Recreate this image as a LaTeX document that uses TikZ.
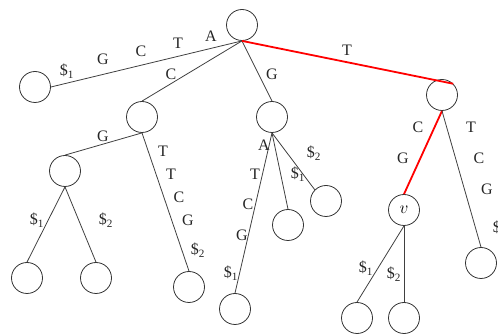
\documentclass[tikz,border=0pt]{standalone}
\usepackage{fontspec}
\setmainfont{Liberation Serif}
\newcommand{\dol}[1]{\$\textsubscript{#1}}
\begin{document}
\begin{tikzpicture}[x=1pt,y=-1pt,
  vtx/.style={circle,draw=black!80,line width=0.8pt,minimum size=31pt,inner sep=0pt},
  edge/.style={draw=black!75,line width=0.8pt},
  hot/.style={draw=red,line width=1.8pt},
  lab/.style={inner sep=0pt,font=\fontsize{16}{16}\selectfont,text=black!85}]
\clip (0,0) rectangle (498,336);
\useasboundingbox (0,0) rectangle (498,336);

% vertices
\node[vtx] (root) at (242,25) {};
\node[vtx] (l1)   at (35,87) {};
\node[vtx] (c)    at (142,117) {};
\node[vtx] (g)    at (272,117) {};
\node[vtx] (t)    at (442,95) {};
\node[vtx] (cg)   at (65,171) {};
\node[vtx] (cg1)  at (27,278) {};
\node[vtx] (cg2)  at (96,278) {};
\node[vtx] (ct)   at (189,287) {};
\node[vtx] (ga)   at (235,309) {};
\node[vtx] (g1)   at (288,225) {};
\node[vtx] (g2)   at (326,201) {};
\node[vtx,font=\fontsize{17}{17}\selectfont] (v) at (404,210) {$v$};
\node[vtx] (v1)   at (357,318) {};
\node[vtx] (v2)   at (404,318) {};
\node[vtx] (tt)   at (481,263) {};

% edges
\draw[edge] (root.south) -- (l1.east);
\draw[edge] (root.south) -- (c.north);
\draw[edge] (root.south) -- (g.north);
\draw[hot]  (root.south) -- (t.north east);
\draw[edge] (c.south) -- (cg.north);
\draw[edge] (c.south) -- (ct.north);
\draw[edge] (cg.south) -- (cg1.north);
\draw[edge] (cg.south) -- (cg2.north);
\draw[edge] (g.south) -- (ga.north);
\draw[edge] (g.south) -- (g1.north);
\draw[edge] (g.south) -- (g2.north west);
\draw[hot]  (t.south) -- (v.north);
\draw[edge] (t.south) -- (tt.north);
\draw[edge] (v.south) -- (v1.north);
\draw[edge] (v.south) -- (v2.north);

% edge labels
\node[lab] (a1) at (211,36) {A};
\node[lab] (a2) at (178,43) {T};
\node[lab] (a3) at (141,51) {C};
\node[lab] (a4) at (103,59) {G};
\node[lab] (a5) at (67,71) {\dol{1}};
\node[lab] (b1) at (171,74) {C};
\node[lab] (b2) at (272,74) {G};
\node[lab] (b3) at (347,50) {T};
\node[lab] (c1) at (103,136) {G};
\node[lab] (c2) at (163,151) {T};
\node[lab] (c3) at (171,174) {T};
\node[lab] (c4) at (179,197) {C};
\node[lab] (c5) at (188,220) {G};
\node[lab] (c6) at (198,250) {\dol{2}};
\node[lab] (d1) at (37,220) {\dol{1}};
\node[lab] (d2) at (106,220) {\dol{2}};
\node[lab] (e1) at (264,145) {A};
\node[lab] (e2) at (314,153) {\dol{2}};
\node[lab] (e3) at (255,174) {T};
\node[lab] (e4) at (298,174) {\dol{1}};
\node[lab] (e5) at (248,204) {C};
\node[lab] (e6) at (242,235) {G};
\node[lab] (e7) at (231,273) {\dol{1}};
\node[lab] (f1) at (418,127) {C};
\node[lab] (f2) at (403,158) {G};
\node[lab] (f3) at (471,127) {T};
\node[lab] (f4) at (479,158) {C};
\node[lab] (f5) at (487,189) {G};
\node[lab] (f6) at (500,228) {\dol{2}};
\node[lab] (h1) at (366,268) {\dol{1}};
\node[lab] (h2) at (394,274) {\dol{2}};
\end{tikzpicture}
\end{document}
